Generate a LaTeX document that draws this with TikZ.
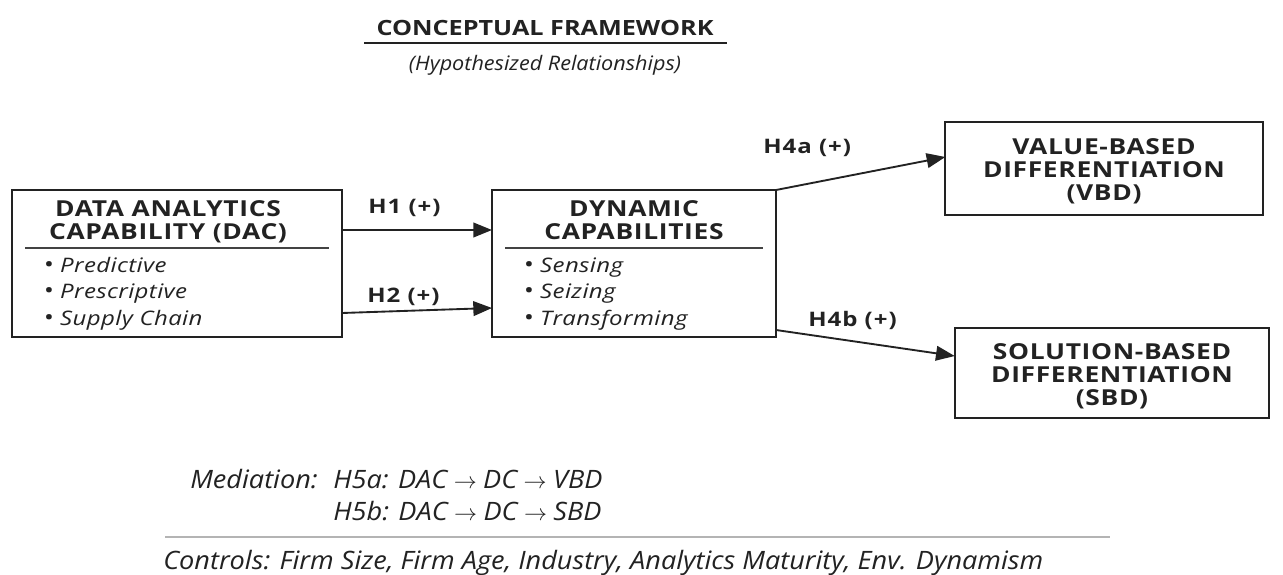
\documentclass[tikz,border=0pt]{standalone}
\usepackage{fontspec}
\setmainfont{Open Sans}
\newfontfamily\titlefont[FakeStretch=1.2]{Open Sans}
\newfontfamily\hdfont[FakeStretch=1.2,LetterSpace=3]{Open Sans}
\newfontfamily\labfont[FakeStretch=1.2,LetterSpace=5]{Open Sans}
\newfontfamily\bulfont[FakeStretch=1.2,LetterSpace=2]{Open Sans}
\newfontfamily\subfont[FakeStretch=1.08]{Open Sans}
\newfontfamily\notefont[FakeStretch=1.07]{Open Sans}
\usetikzlibrary{arrows.meta}
\definecolor{ink}{HTML}{222222}
\definecolor{rulegray}{HTML}{B4B4B4}
\newcommand{\bulletmark}{{\fontsize{17}{17}\selectfont\textbullet}\kern5pt}
\begin{document}
\begin{tikzpicture}[x=0.75pt,y=-0.75pt,
  box/.style={draw=ink,line width=1.5pt,inner sep=0pt,outer sep=0pt},
  arr/.style={draw=ink,line width=1.4pt,-{Triangle[length=14pt,width=11pt]}},
  sepline/.style={draw=ink!85,line width=0.9pt},
  hd/.style={font=\hdfont\fontsize{16.5}{18}\selectfont\bfseries,text=ink,anchor=base,inner sep=0pt},
  bul/.style={font=\bulfont\fontsize{15}{17}\selectfont\itshape,text=ink,anchor=base west,inner sep=0pt},
  lab/.style={font=\labfont\fontsize{15}{17}\selectfont\bfseries,text=ink,anchor=base west,inner sep=0pt},
  note/.style={font=\notefont\fontsize{19}{21}\selectfont\itshape,text=ink,anchor=base west,inner sep=0pt},
]
\useasboundingbox[fill=white] (0,0) rectangle (1283,575);

% title
\node[anchor=base,inner sep=0pt,text=ink,font=\titlefont\fontsize{15.75}{18}\selectfont\bfseries] (title) at (545,35) {CONCEPTUAL FRAMEWORK};
\draw[ink,line width=1.5pt] (364,43) -- (727,43);
\node[anchor=base,inner sep=0pt,text=ink,font=\subfont\fontsize{15}{17}\selectfont\itshape] (subtitle) at (545,70) {(Hypothesized Relationships)};

% boxes
\node[box,minimum width=247.5pt,minimum height=110.25pt] (dac) at (177,263.5) {};
\node[box,minimum width=213pt,minimum height=110.25pt] (dc) at (634,263.5) {};
\node[box,minimum width=238pt,minimum height=69.75pt] (vbd) at (1104,168.5) {};
\node[box,minimum width=236pt,minimum height=67.5pt] (sbd) at (1112,373) {};

% DAC content
\node[hd] (dac1) at (168,216) {DATA ANALYTICS};
\node[hd] (dac2) at (168,239) {CAPABILITY (DAC)};
\draw[sepline] (25,248) -- (329,248);
\node[bul] (dacb1) at (43,272) {\bulletmark Predictive};
\node[bul] (dacb2) at (43,298) {\bulletmark Prescriptive};
\node[bul] (dacb3) at (43,325) {\bulletmark Supply Chain};

% DC content
\node[hd] (dc1) at (634,216) {DYNAMIC};
\node[hd] (dc2) at (634,239) {CAPABILITIES};
\draw[sepline] (505,248) -- (763,248);
\node[bul] (dcb1) at (523,272) {\bulletmark Sensing};
\node[bul] (dcb2) at (523,298) {\bulletmark Seizing};
\node[bul] (dcb3) at (523,325) {\bulletmark Transforming};

% VBD / SBD content
\node[hd] (vbd1) at (1104,154) {VALUE-BASED};
\node[hd] (vbd2) at (1104,177) {DIFFERENTIATION};
\node[hd] (vbd3) at (1104,200) {(VBD)};
\node[hd] (sbd1) at (1112,359) {SOLUTION-BASED};
\node[hd] (sbd2) at (1112,382) {DIFFERENTIATION};
\node[hd] (sbd3) at (1112,405) {(SBD)};

% connectors
\draw[arr] (dac.east |- 0,230) -- (dc.west |- 0,230);
\draw[arr] (dac.east |- 0,313) -- (dc.west |- 0,308);
\draw[arr] (dc.north east) -- (vbd.west |- 0,157);
\draw[arr] (dc.east |- 0,330) -- (sbd.west |- 0,356);

% labels
\node[lab] (h1) at (368,213) {H1 (+)};
\node[lab] (h2) at (367,302) {H2 (+)};
\node[lab] (h4a) at (763,153) {H4a (+)};
\node[lab] (h4b) at (808,326) {H4b (+)};

% mediation
\node[note] (medlab) at (190,488) {Mediation:};
\node[note] (med1) at (333,488) {H5a: DAC$\;\rightarrow\;$DC$\;\rightarrow\;$VBD};
\node[note] (med2) at (333,520) {H5b: DAC$\;\rightarrow\;$DC$\;\rightarrow\;$SBD};
\draw[rulegray,line width=1pt] (165,537) -- (1110,537);
\node[note] (ctrl) at (163,569) {Controls: Firm Size, Firm Age, Industry, Analytics Maturity, Env. Dynamism};
\end{tikzpicture}
\end{document}
